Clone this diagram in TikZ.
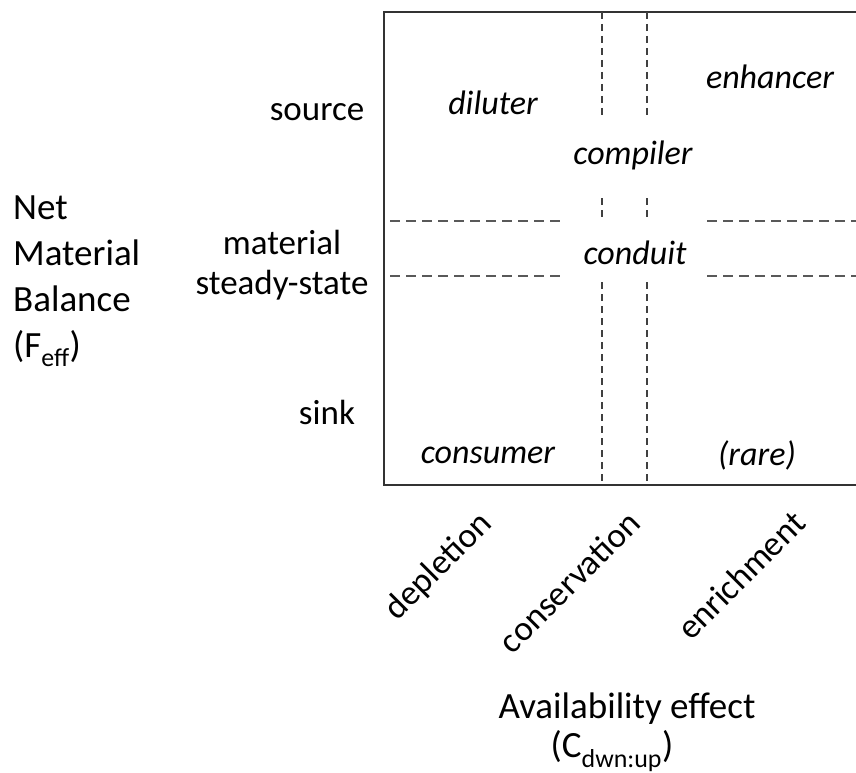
\documentclass[tikz,border=0pt]{standalone}
\usepackage{fontspec}
\setmainfont{Carlito}
\begin{document}
\begin{tikzpicture}[x=1pt,y=-1pt,
  lbl/.style={font=\fontsize{35}{40}\selectfont, inner sep=0pt},
  cat/.style={font=\fontsize{34}{40}\selectfont\itshape, inner sep=0pt},
  ttl/.style={font=\fontsize{37}{46}\selectfont, inner sep=0pt},
  frame/.style={draw=black!80, line width=2pt},
  vdash/.style={draw=black!75, line width=1.6pt, dash pattern=on 7pt off 5pt},
  hdash/.style={draw=black!65, line width=1.8pt, dash pattern=on 10pt off 6pt}]
\useasboundingbox (0,0) rectangle (856,773);
% frame
\coordinate (tr) at (856,12);
\coordinate (tl) at (384,12);
\coordinate (bl) at (384,485);
\coordinate (br) at (856,485);
\draw[frame] (tr) -- (tl) -- (bl) -- (br);
% vertical dashed lines
\coordinate (v1a) at (602,12);   \coordinate (v1b) at (602,119);
\coordinate (v1c) at (602,198);  \coordinate (v1d) at (602,219);
\coordinate (v1e) at (602,282);  \coordinate (v1f) at (602,485);
\coordinate (v2a) at (647,12);   \coordinate (v2b) at (647,119);
\coordinate (v2c) at (647,198);  \coordinate (v2d) at (647,219);
\coordinate (v2e) at (647,282);  \coordinate (v2f) at (647,485);
\draw[vdash] (v1a) -- (v1b); \draw[vdash] (v1c) -- (v1d); \draw[vdash] (v1e) -- (v1f);
\draw[vdash] (v2a) -- (v2b); \draw[vdash] (v2c) -- (v2d); \draw[vdash] (v2e) -- (v2f);
% horizontal dashed lines
\coordinate (h1a) at (390,221); \coordinate (h1b) at (563,221);
\coordinate (h1c) at (707,221); \coordinate (h1d) at (856,221);
\coordinate (h2a) at (390,276); \coordinate (h2b) at (563,276);
\coordinate (h2c) at (707,276); \coordinate (h2d) at (856,276);
\draw[hdash] (h1a) -- (h1b); \draw[hdash] (h1c) -- (h1d);
\draw[hdash] (h2a) -- (h2b); \draw[hdash] (h2c) -- (h2d);
% categories
\node[cat] (diluter) at (493,103) {diluter};
\node[cat] (enhancer) at (770,77) {enhancer};
\node[cat] (compiler) at (633,155) {compiler};
\node[cat] (conduit) at (635,253) {conduit};
\node[cat] (consumer) at (488,455) {consumer};
\node[cat] (rare) at (757,455) {(rare)};
% y-axis labels
\node[lbl] (source) at (317,112) {source};
\node[lbl, align=center] (steady) at (282,265) {material\\steady-state};
\node[lbl] (sink) at (327,412) {sink};
\node[ttl, align=left, anchor=west] (ytitle) at (13,281) {Net\\Material\\Balance\\(F\textsubscript{eff})};
% x-axis labels
\node[lbl, rotate=45, anchor=east] (depletion) at (487,519) {depletion};
\node[lbl, rotate=45, anchor=east] (conservation) at (634,517) {conservation};
\node[lbl, rotate=45, anchor=east] (enrichment) at (799,517) {enrichment};
\node[ttl] (xtitle) at (627,709) {Availability effect};
\node[ttl] (xsub) at (612,751) {(C\textsubscript{dwn:up})};
\end{tikzpicture}
\end{document}
